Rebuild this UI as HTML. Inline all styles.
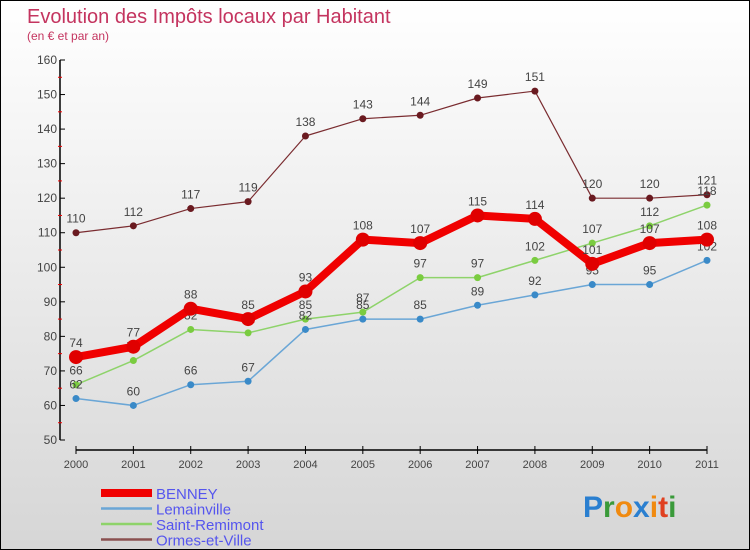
<!DOCTYPE html>
<html><head><meta charset="utf-8"><style>
html,body{margin:0;padding:0}
body{width:750px;height:550px;overflow:hidden;font-family:"Liberation Sans",sans-serif}
#wrap{position:relative;width:748px;height:548px;border:1px solid #000;background:linear-gradient(#ffffff,#d6d6d6)}
svg{position:absolute;left:0;top:0}
</style></head><body>
<div id="wrap">
<svg id="chart" width="748" height="548">
<text x="26" y="22" font-size="20" fill="#c4345f">Evolution des Impôts locaux par Habitant</text>
<text x="26" y="39" font-size="12" fill="#c4345f">(en € et par an)</text>
<g id="axes"></g>
<g id="series"></g>
<g id="legend"></g>
<text x="582" y="516" font-size="30" font-weight="bold"><tspan fill="#2a7fd0">P</tspan><tspan fill="#3a9a3a">r</tspan><tspan fill="#f08a10">o</tspan><tspan fill="#2a7fd0">x</tspan><tspan fill="#f08a10">i</tspan><tspan fill="#e04020">t</tspan><tspan fill="#3a9a3a">i</tspan></text>
</svg>
</div>
<script>
const years=[2000,2001,2002,2003,2004,2005,2006,2007,2008,2009,2010,2011];
const yTicks=[50,60,70,80,90,100,110,120,130,140,150,160];
const benney=[74,77,88,85,93,108,107,115,114,101,107,108];
const lemainville=[62,60,66,67,82,85,85,89,92,95,95,102];
const saintRemimont=[66,73,82,81,85,87,97,97,102,107,112,118];
const ormes=[110,112,117,119,138,143,144,149,151,120,120,121];
const seriesNames=["BENNEY","Lemainville","Saint-Remimont","Ormes-et-Ville"];

const NS="http://www.w3.org/2000/svg";
const X=i=>75+i*(631/11);
const Y=v=>439-(v-50)*(380/110);
function mk(tag,attrs,parent,txt){const e=document.createElementNS(NS,tag);for(const k in attrs)e.setAttribute(k,attrs[k]);if(txt!==undefined)e.textContent=txt;parent.appendChild(e);return e;}
const axes=document.getElementById('axes');
let a=mk('line',{x1:59,y1:Y(160),x2:59,y2:Y(50),stroke:'#000','stroke-width':1.5},axes);


yTicks.forEach(v=>{
  mk('line',{x1:59,y1:Y(v),x2:64,y2:Y(v),stroke:'#000'},axes);
  if(v<160){mk('line',{x1:57,y1:Y(v+5),x2:61,y2:Y(v+5),stroke:'#e00'},axes);}
  const t=mk('text',{x:56,y:Y(v)+4,'font-size':12,fill:'#444','text-anchor':'end'},axes,String(v));
  
  
});
a=mk('line',{x1:X(0),y1:449,x2:X(11),y2:449,stroke:'#000','stroke-width':1.5},axes);


years.forEach((yr,i)=>{
  mk('line',{x1:X(i),y1:445,x2:X(i),y2:453,stroke:'#000'},axes);
  const t=mk('text',{x:X(i),y:467,'font-size':11,fill:'#444','text-anchor':'middle'},axes,String(yr));
  
  
});
const sg=document.getElementById('series');
const defs=[
 {d:ormes,c:'#7a2c30',w:1.2,r:3.5,dot:'#6a1a20',name:'series-ormes-et-ville'},
 {d:saintRemimont,c:'#8ed36a',w:1.5,r:3.5,dot:'#7acc40',name:'series-saint-remimont'},
 {d:lemainville,c:'#6aa6d6',w:1.5,r:3.5,dot:'#3a8ac8',name:'series-lemainville'},
 {d:benney,c:'#f00000',w:8,r:7,dot:'#e00000',name:'series-benney'}];
defs.forEach(s=>{
  const g=mk('g',{},sg);
  
  
  const p=mk('polyline',{points:s.d.map((v,i)=>X(i)+','+Y(v)).join(' '),fill:'none',stroke:s.c,'stroke-width':s.w,'stroke-linejoin':'round'},g);
  
  
  s.d.forEach((v,i)=>{
    const c=mk('circle',{cx:X(i),cy:Y(v),r:s.r,fill:s.dot},g);
    
    
    const t=mk('text',{x:X(i),y:Y(v)-10,'font-size':12,fill:'#444','text-anchor':'middle'},g,String(v));
    
    
  });
});
const lg=document.getElementById('legend');
const lc=['#f00000','#6aa6d6','#8ed36a','#8a5050'],lw=[8,2.5,2.5,2.5];
seriesNames.forEach((n,i)=>{
  const y=492+i*15.5;
  const g=mk('g',{},lg);
  
  
  mk('line',{x1:100,y1:y,x2:151,y2:y,stroke:lc[i],'stroke-width':lw[i]},g);
  mk('text',{x:155,y:y+6,'font-size':15,fill:'#5555ee'},g,n);
});
</script>
</body></html>
